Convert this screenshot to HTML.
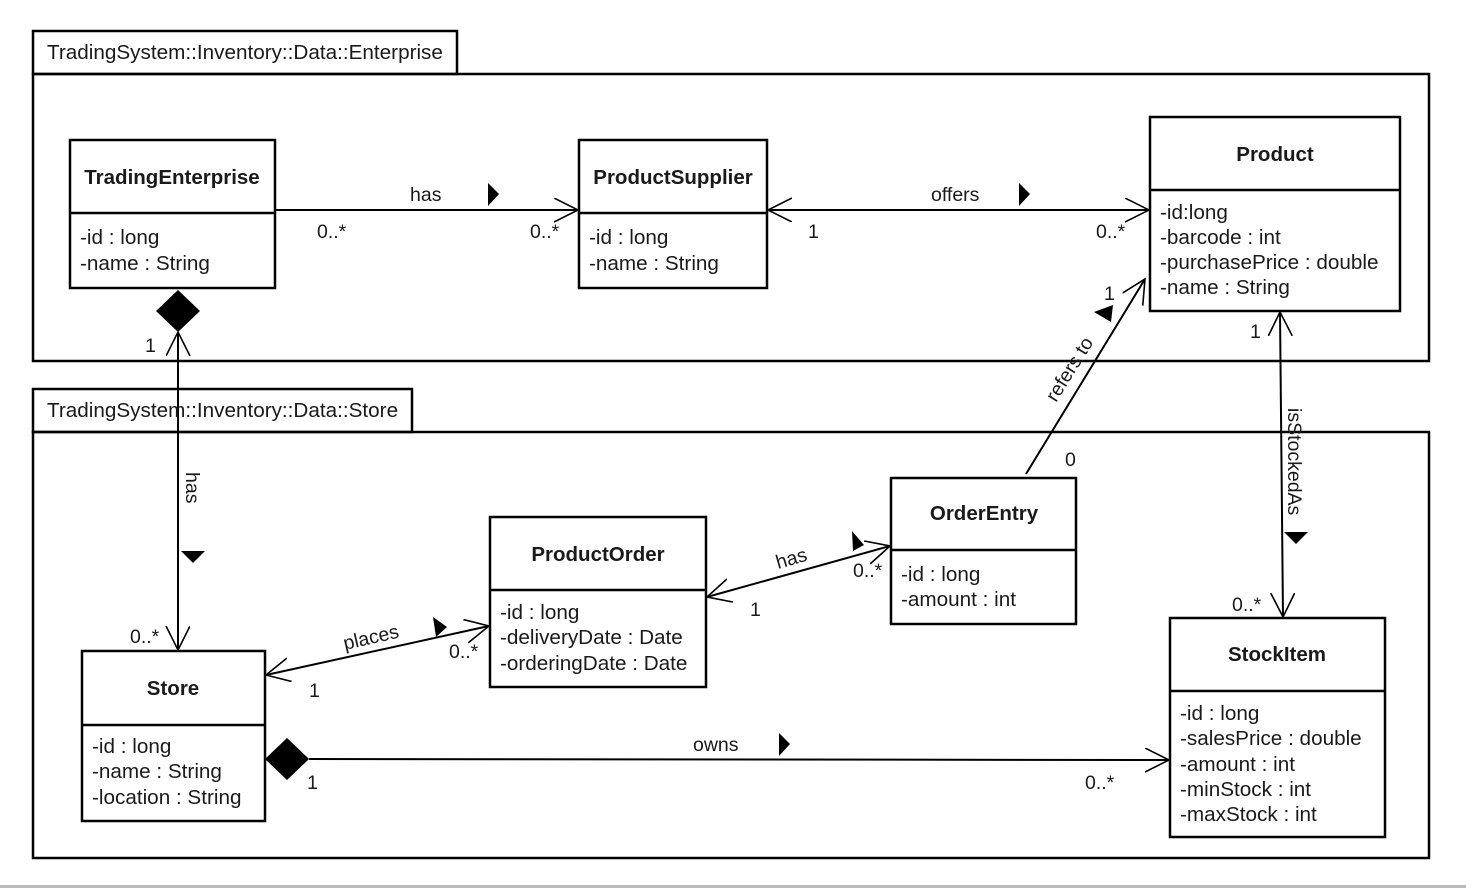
<!DOCTYPE html>
<html><head><meta charset="utf-8"><style>
html,body{margin:0;padding:0;background:#fff;width:1466px;height:888px;overflow:hidden}
text{font-family:"Liberation Sans",Arial,sans-serif;fill:#1a1a1a}
.a{font-size:20.7px}
.b{font-size:20.5px;font-weight:bold}
</style></head><body>
<svg width="1466" height="888" viewBox="0 0 1466 888" xmlns="http://www.w3.org/2000/svg">
<defs>
<marker id="oa" markerWidth="30" markerHeight="30" refX="24" refY="12" orient="auto-start-reverse" markerUnits="userSpaceOnUse">
<path d="M0,0 L24,12 L0,24" fill="none" stroke="#000" stroke-width="1.6"/>
</marker>
</defs>
<rect x="0" y="885" width="1466" height="3" fill="#bbb"/>
<g fill="none" stroke="#000" stroke-width="2.5">
<rect x="33" y="31" width="424" height="43"/>
<rect x="33" y="74" width="1396" height="287"/>
<rect x="33" y="389" width="379" height="43"/>
<rect x="33" y="432" width="1396" height="426"/>
<rect x="70" y="140" width="205" height="148" fill="#fff"/><line x1="70" y1="213" x2="275" y2="213"/>
<rect x="579" y="140" width="188" height="148" fill="#fff"/><line x1="579" y1="213" x2="767" y2="213"/>
<rect x="1150" y="117" width="250" height="194" fill="#fff"/><line x1="1150" y1="190" x2="1400" y2="190"/>
<rect x="891" y="478" width="185" height="146" fill="#fff"/><line x1="891" y1="550" x2="1076" y2="550"/>
<rect x="490" y="517" width="216" height="170" fill="#fff"/><line x1="490" y1="590" x2="706" y2="590"/>
<rect x="82" y="651" width="183" height="170" fill="#fff"/><line x1="82" y1="725" x2="265" y2="725"/>
<rect x="1170" y="618" width="215" height="219" fill="#fff"/><line x1="1170" y1="691" x2="1385" y2="691"/>
</g>
<g fill="none" stroke="#000" stroke-width="2">
<line x1="275" y1="210" x2="578" y2="210" marker-end="url(#oa)"/>
<line x1="768" y1="210" x2="1149" y2="210" marker-start="url(#oa)" marker-end="url(#oa)"/>
<line x1="178" y1="332" x2="178" y2="650" marker-start="url(#oa)" marker-end="url(#oa)"/>
<line x1="266" y1="675" x2="489" y2="626" marker-start="url(#oa)" marker-end="url(#oa)"/>
<line x1="707" y1="597" x2="890" y2="546" marker-start="url(#oa)" marker-end="url(#oa)"/>
<line x1="1026" y1="474" x2="1145" y2="279" marker-end="url(#oa)"/>
<line x1="1280" y1="312" x2="1283" y2="617" marker-start="url(#oa)" marker-end="url(#oa)"/>
<line x1="309" y1="759" x2="1169" y2="760" marker-end="url(#oa)"/>
</g>
<g fill="#000">
<polygon points="178,290 200,311 178,332 156,311"/>
<polygon points="265,759 287,738 309,759 287,780"/>
<polygon points="488,183 499,194 488,206"/>
<polygon points="1019,183 1030,194 1019,206"/>
<polygon points="181,551 205,551 193,563"/>
<polygon points="1284,532 1308,532 1296,544"/>
<polygon points="779,733 790,744 779,756"/>
<polygon points="1094,312 1113,305 1111,322"/>
<polygon points="433,617 447,627 436,637"/>
<polygon points="852,531 864,545 853,551"/>
</g>
<g class="a">
<text x="47" y="59">TradingSystem::Inventory::Data::Enterprise</text>
<text x="47" y="417">TradingSystem::Inventory::Data::Store</text>
</g>
<g class="b" text-anchor="middle">
<text x="172" y="184">TradingEnterprise</text>
<text x="673" y="184">ProductSupplier</text>
<text x="1275" y="161">Product</text>
<text x="984" y="520">OrderEntry</text>
<text x="598" y="561">ProductOrder</text>
<text x="173" y="695">Store</text>
<text x="1277" y="661">StockItem</text>
</g>
<g class="a">
<text x="80" y="244">-id : long</text><text x="80" y="270">-name : String</text>
<text x="589" y="244">-id : long</text><text x="589" y="270">-name : String</text>
<text x="1160" y="219">-id:long</text><text x="1160" y="244">-barcode : int</text><text x="1160" y="269">-purchasePrice : double</text><text x="1160" y="294">-name : String</text>
<text x="901" y="581">-id : long</text><text x="901" y="606">-amount : int</text>
<text x="500" y="619">-id : long</text><text x="500" y="644">-deliveryDate : Date</text><text x="500" y="670">-orderingDate : Date</text>
<text x="92" y="753">-id : long</text><text x="92" y="778">-name : String</text><text x="92" y="804">-location : String</text>
<text x="1180" y="720">-id : long</text><text x="1180" y="745">-salesPrice : double</text><text x="1180" y="771">-amount : int</text><text x="1180" y="796">-minStock : int</text><text x="1180" y="821">-maxStock : int</text>
</g>
<g class="a" style="font-size:19.5px">
<text x="410" y="201">has</text><text x="317" y="238">0..*</text><text x="530" y="238">0..*</text>
<text x="931" y="201">offers</text><text x="808" y="238">1</text><text x="1096" y="238">0..*</text>
<text x="145" y="352">1</text><text x="130" y="643">0..*</text>
<text x="0" y="0" transform="translate(186,472) rotate(90)">has</text>
<text x="0" y="0" transform="translate(345,650) rotate(-13)">places</text>
<text x="449" y="658">0..*</text><text x="309" y="697">1</text>
<text x="0" y="0" transform="translate(778,569) rotate(-16)">has</text>
<text x="853" y="577">0..*</text><text x="750" y="616">1</text>
<text x="0" y="0" transform="translate(1056,403) rotate(-58)">refers to</text>
<text x="1104" y="300">1</text><text x="1065" y="466">0</text>
<text x="1250" y="338">1</text><text x="1232" y="611">0..*</text>
<text x="0" y="0" transform="translate(1288,408) rotate(90)">isStockedAs</text>
<text x="693" y="751">owns</text><text x="307" y="789">1</text><text x="1085" y="789">0..*</text>
</g>
</svg>
</body></html>
